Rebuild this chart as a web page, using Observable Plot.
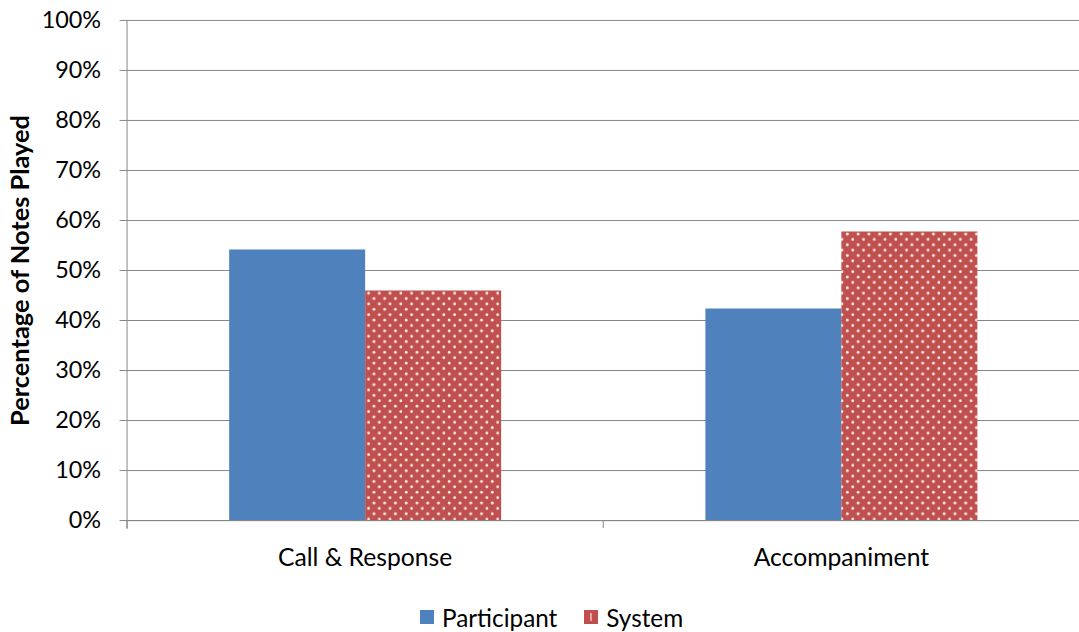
<!DOCTYPE html>
<html>
<head>
<meta charset="utf-8">
<script src="https://cdn.jsdelivr.net/npm/d3@7"></script>
<script src="https://cdn.jsdelivr.net/npm/@observablehq/plot@0.6"></script>
<style>
  html, body { margin: 0; padding: 0; background: #fff; overflow: hidden; }
  #chart svg { display: block; overflow: visible; }
  .legend { display: flex; align-items: center; margin-left: 420px; margin-top: 15px;
            font-family: Lato, sans-serif; font-size: 24.3px; color: #000; }
  .legend .item { display: flex; align-items: center; margin-right: 27px; }
  .legend svg { margin-right: 8px; }
</style>
</head>
<body>
<div id="chart"></div>
<div class="legend" id="legend"></div>
<script>
// Share of notes played by the participant vs. the system, per interaction mode
const categories = ["Call & Response", "Accompaniment"];
const series = ["Participant", "System"];
const participant = [54.1, 42.3];
const system = [45.9, 57.7];
const yTicks = [0, 10, 20, 30, 40, 50, 60, 70, 80, 90, 100];

const blue = "#4F81BD";
const red = "#C0504D";
const gray = "#868686";
const font = "Lato, sans-serif";

const rows = categories.map((category, i) => ({category, participant: participant[i], system: system[i]}));

// Small tick marks between categories, below the baseline
const categoryTicks = (index, {x}, values, {width, height, marginRight, marginBottom}) => {
  const y0 = height - marginBottom;
  const edges = [...x.domain().map((d) => x(d)), width - marginRight];
  const g = d3.create("svg:g").attr("stroke", gray).attr("stroke-width", 1);
  g.selectAll("line").data(edges).join("line")
    .attr("x1", (d) => Math.round(d) + 0.5).attr("x2", (d) => Math.round(d) + 0.5)
    .attr("y1", y0).attr("y2", y0 + 8);
  return g.node();
};

const chart = Plot.plot({
  width: 1083,
  height: 590,
  marginLeft: 127,
  marginRight: 0,
  marginTop: 20,
  marginBottom: 68,
  style: {fontFamily: font, fontSize: "23px", color: "#000", background: "#fff"},
  x: {domain: categories, padding: 0, axis: null},
  y: {domain: [0, 100], axis: null},
  marks: [
    Plot.gridY(yTicks, {stroke: gray, strokeOpacity: 1}),
    Plot.barY(rows, {x: "category", y: "participant", fill: blue, insetLeft: 103, insetRight: 238.5}),
    Plot.barY(rows, {x: "category", y: "system", fill: "url(#dots)", insetLeft: 239.5, insetRight: 102}),
    Plot.ruleY([0], {stroke: gray}),
    Plot.frame({anchor: "left", stroke: gray, insetBottom: -8}),
    categoryTicks,
    Plot.axisY(yTicks, {tickFormat: (d) => d + "%", tickSize: 7, tickPadding: 19, stroke: gray, fill: "#000", fontSize: 23.5, label: null}),
    Plot.axisX({tickSize: 0, tickPadding: 28, fill: "#000", fontSize: 24.8, label: null}),
    Plot.text(["Percentage of Notes Played"], {frameAnchor: "left", textAnchor: "middle", rotate: -90, dx: -107, fontWeight: "bold", fontSize: 25.5, fill: "#000"})
  ]
});

// Dotted fill used for the System bars
const defs = d3.select(chart).insert("defs", ":first-child");
const pat = defs.append("pattern").attr("id", "dots").attr("patternUnits", "userSpaceOnUse")
  .attr("width", 10.8).attr("height", 10.8);
pat.append("rect").attr("width", 10.8).attr("height", 10.8).attr("fill", red);
pat.append("circle").attr("cx", 2.7).attr("cy", 2.7).attr("r", 1.4).attr("fill", "#fff").attr("fill-opacity", 0.9);
pat.append("circle").attr("cx", 8.1).attr("cy", 8.1).attr("r", 1.4).attr("fill", "#fff").attr("fill-opacity", 0.9);

document.getElementById("chart").appendChild(chart);

// Legend
const legend = d3.select("#legend");
series.forEach((name, i) => {
  const item = legend.append("div").attr("class", "item");
  const sw = item.append("svg").attr("width", 14).attr("height", 14);
  sw.append("rect").attr("width", 14).attr("height", 14).attr("fill", i === 0 ? blue : red);
  if (i === 1) sw.append("rect").attr("x", 6.3).attr("y", 3).attr("width", 1.4).attr("height", 8).attr("fill", "#fff").attr("fill-opacity", 0.7);
  item.append("span").text(name);
});
</script>
</body>
</html>
